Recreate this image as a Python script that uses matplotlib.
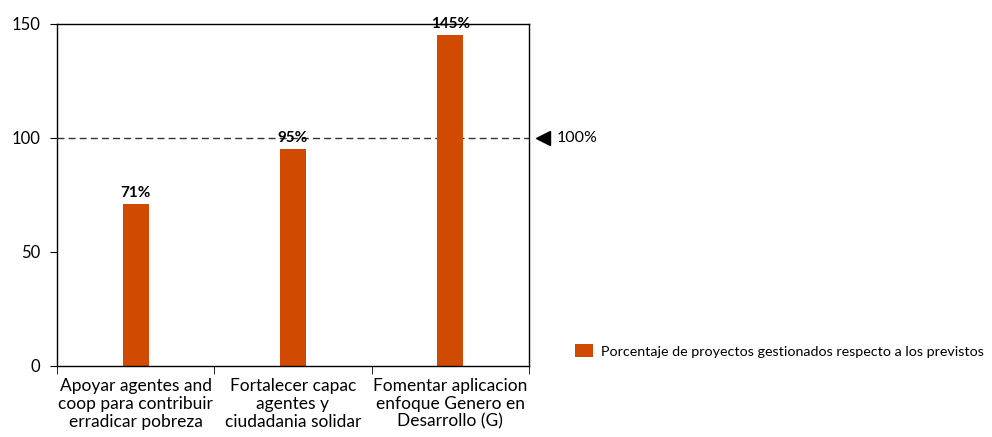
import matplotlib
matplotlib.use("Agg")
import matplotlib.pyplot as plt
from matplotlib.patches import Patch

plt.rcParams['font.family'] = ['Lato', 'DejaVu Sans']

categories = [
    "Apoyar agentes and\ncoop para contribuir\nerradicar pobreza",
    "Fortalecer capac\nagentes y\nciudadania solidar",
    "Fomentar aplicacion\nenfoque Genero en\nDesarrollo (G)",
]
values = [71, 95, 145]
target = 100
yticks = [0, 50, 100, 150]
series_name = "Porcentaje de proyectos gestionados respecto a los previstos"
bar_color = "#D14A02"

fig = plt.figure(figsize=(9.92, 4.37), dpi=100)
ax = fig.add_axes([57 / 992, 1 - 366 / 437, (529 - 57) / 992, (366 - 24) / 437])

x = list(range(len(categories)))
ax.bar(x, values, width=0.165, color=bar_color, zorder=2)
for xi, v in zip(x, values):
    ax.text(xi, v + 2, f"{v}%", ha="center", va="bottom",
            fontsize=11, fontweight="bold", color="black")

ax.set_xlim(-0.5, len(categories) - 0.5)
ax.set_ylim(0, 150)
ax.set_yticks(yticks)
ax.tick_params(axis="y", direction="out", length=5, labelsize=12, pad=7)

ax.set_xticks(x)
ax.set_xticklabels(categories, fontsize=12.5, linespacing=1.12)
ax.tick_params(axis="x", which="major", length=0, pad=9)
ax.set_xticks([i - 0.5 for i in range(len(categories) + 1)], minor=True)
ax.tick_params(axis="x", which="minor", direction="out", length=6)

for s in ax.spines.values():
    s.set_linewidth(1.0)
    s.set_color("black")

# target reference line
ax.axhline(target, color="#333333", linestyle=(0, (5, 3)), linewidth=1.0, zorder=1)
ax.plot([1.03], [target], marker="<", markersize=10, color="black",
        transform=ax.get_yaxis_transform(), clip_on=False)
ax.text(1.059, target, f"{target}%", transform=ax.get_yaxis_transform(),
        va="center", ha="left", fontsize=11.5)

handle = Patch(facecolor=bar_color, edgecolor="none")
fig.legend([handle], [series_name], loc="center left",
           bbox_to_anchor=(562 / 992, 1 - 351 / 437), frameon=False,
           fontsize=10.3, handlelength=1.25, handleheight=1.0, handletextpad=0.6)

fig.savefig("out.png", dpi=100)
